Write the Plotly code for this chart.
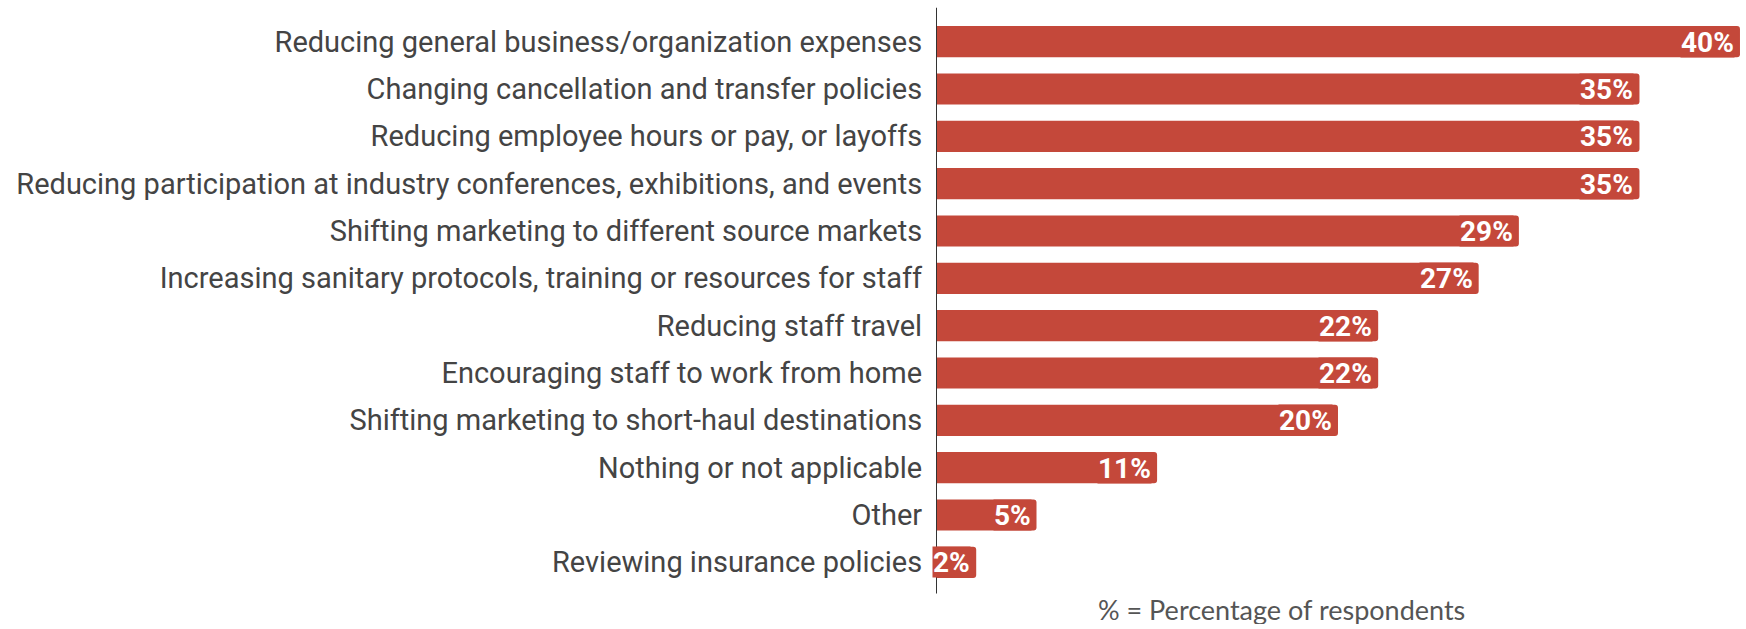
import plotly.graph_objects as go

categories = [
    "Reducing general business/organization expenses",
    "Changing cancellation and transfer policies",
    "Reducing employee hours or pay, or layoffs",
    "Reducing participation at industry conferences, exhibitions, and events",
    "Shifting marketing to different source markets",
    "Increasing sanitary protocols, training or resources for staff",
    "Reducing staff travel",
    "Encouraging staff to work from home",
    "Shifting marketing to short-haul destinations",
    "Nothing or not applicable",
    "Other",
    "Reviewing insurance policies",
]
values = [40, 35, 35, 35, 29, 27, 22, 22, 20, 11, 5, 2]
value_labels = [f"{v}%" for v in values]
footnote = "% = Percentage of respondents"

BAR_COLOR = "#C4483A"
TEXT_COLOR = "#444444"

fig = go.Figure(
    go.Bar(
        x=values,
        y=categories,
        orientation="h",
        marker=dict(color=BAR_COLOR, line=dict(width=0)),
        hoverinfo="skip",
    )
)

# value labels sit at the end of each bar on a bar-coloured box
for cat, val, lab in zip(categories, values, value_labels):
    fig.add_annotation(
        x=val, y=cat, xref="x", yref="y",
        text=f"<b>{lab}</b>",
        showarrow=False,
        xanchor="right", yanchor="middle",
        xshift=-5,
        height=30,
        bgcolor=BAR_COLOR,
        borderpad=0,
        font=dict(family="Roboto", size=28, color="white"),
    )

fig.add_annotation(
    x=0.427, y=-0.04, xref="paper", yref="paper",
    text=footnote, showarrow=False,
    xanchor="center", yanchor="middle",
    height=30,
    font=dict(family="Lato", size=27, color="#555555"),
)

# vertical baseline at zero
fig.add_shape(
    type="line", xref="x", yref="paper",
    x0=0, x1=0, y0=-0.013, y1=1.018,
    line=dict(color="#333333", width=2),
)

fig.update_layout(
    width=1746, height=629,
    margin=dict(l=936, r=0, t=18, b=43),
    plot_bgcolor="white", paper_bgcolor="white",
    bargap=0.34,
    barcornerradius=3,
    showlegend=False,
)
fig.update_xaxes(range=[0, 40.3], visible=False)
fig.update_yaxes(
    categoryorder="array", categoryarray=categories[::-1],
    range=[-0.5, 11.5],
    showgrid=False, zeroline=False, showline=False,
    ticks="outside", ticklen=7, tickcolor="rgba(0,0,0,0)",
    tickfont=dict(family="Roboto", size=29, color=TEXT_COLOR),
)

fig.write_html("out.html")
